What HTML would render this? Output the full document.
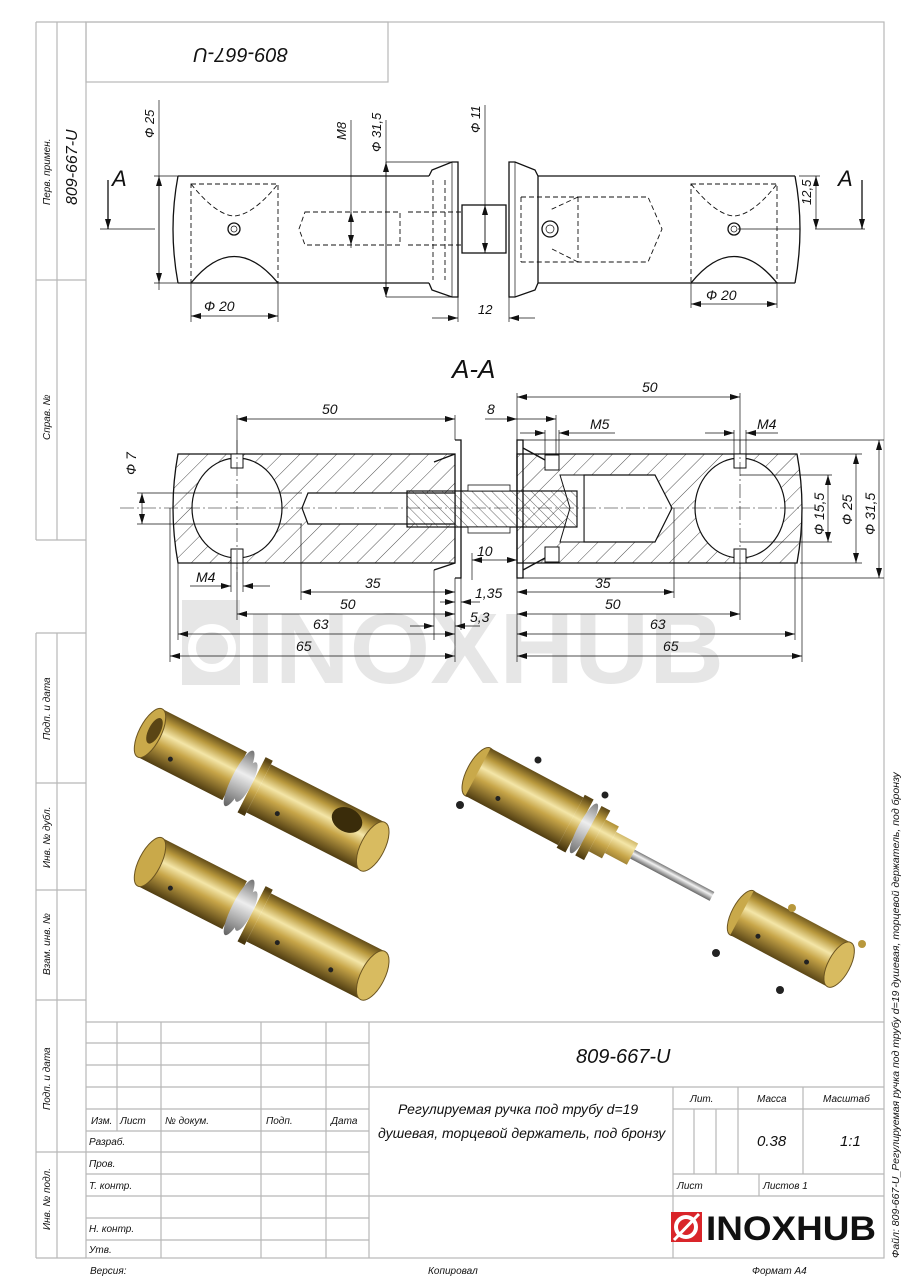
<!DOCTYPE html>
<html><head><meta charset="utf-8"><style>
html,body{margin:0;padding:0;background:#fff}
svg{display:block}
text{font-family:"Liberation Sans","DejaVu Sans",sans-serif;font-style:italic;fill:#111}
text.n{font-style:normal;font-weight:bold}
.fr{stroke:#b8b8b8;stroke-width:1.2;fill:none}
.k{stroke:#111;stroke-width:1.3;fill:none}
.t{stroke:#111;stroke-width:0.7;fill:none}
.d{stroke:#111;stroke-width:0.9;fill:none;stroke-dasharray:5 3}
.c{stroke:#111;stroke-width:0.6;fill:none;stroke-dasharray:14 3 2 3}
</style></head><body>
<svg width="905" height="1280" viewBox="0 0 905 1280" xmlns="http://www.w3.org/2000/svg">
<defs>
<pattern id="h" width="13" height="13" patternUnits="userSpaceOnUse" patternTransform="rotate(45)">
<line x1="0" y1="0" x2="0" y2="13" stroke="#222" stroke-width="0.8"/></pattern>
<pattern id="h2" width="7" height="7" patternUnits="userSpaceOnUse" patternTransform="rotate(-45)">
<line x1="0" y1="0" x2="0" y2="7" stroke="#222" stroke-width="0.7"/></pattern>
<marker id="a" viewBox="0 0 10 6" refX="10" refY="3" markerWidth="10" markerHeight="6" orient="auto-start-reverse" markerUnits="userSpaceOnUse"><path d="M0,0L10,3L0,6z" fill="#111"/></marker>
<linearGradient id="b" gradientUnits="userSpaceOnUse" x1="0" y1="-28" x2="0" y2="28">
<stop offset="0" stop-color="#5a4515"/><stop offset="0.2" stop-color="#b8983c"/><stop offset="0.4" stop-color="#f4e6a8"/><stop offset="0.6" stop-color="#c7a548"/><stop offset="1" stop-color="#4a380f"/></linearGradient>
<linearGradient id="g" gradientUnits="userSpaceOnUse" x1="0" y1="-30" x2="0" y2="30">
<stop offset="0" stop-color="#777"/><stop offset="0.4" stop-color="#eee"/><stop offset="1" stop-color="#666"/></linearGradient>
<linearGradient id="r" gradientUnits="userSpaceOnUse" x1="0" y1="-5" x2="0" y2="5">
<stop offset="0" stop-color="#777"/><stop offset="0.4" stop-color="#f2f2f2"/><stop offset="1" stop-color="#666"/></linearGradient>
</defs>

<rect x="86" y="22" width="798" height="1236" class="fr"/>
<line x1="36" y1="22" x2="36" y2="540" class="fr"/><line x1="57" y1="22" x2="57" y2="540" class="fr"/>
<line x1="36" y1="22" x2="86" y2="22" class="fr"/><line x1="36" y1="280" x2="86" y2="280" class="fr"/><line x1="36" y1="540" x2="86" y2="540" class="fr"/>
<line x1="36" y1="633" x2="36" y2="1258" class="fr"/><line x1="57" y1="633" x2="57" y2="1258" class="fr"/>
<line x1="36" y1="633" x2="86" y2="633" class="fr"/><line x1="36" y1="783" x2="86" y2="783" class="fr"/><line x1="36" y1="890" x2="86" y2="890" class="fr"/><line x1="36" y1="1000" x2="86" y2="1000" class="fr"/><line x1="36" y1="1152" x2="86" y2="1152" class="fr"/><line x1="36" y1="1258" x2="86" y2="1258" class="fr"/>
<g font-size="10">
<text transform="translate(50,205) rotate(-90)">Перв. примен.</text>
<text transform="translate(50,440) rotate(-90)">Справ. №</text>
<text transform="translate(50,740) rotate(-90)">Подп. и дата</text>
<text transform="translate(50,868) rotate(-90)">Инв. № дубл.</text>
<text transform="translate(50,975) rotate(-90)">Взам. инв. №</text>
<text transform="translate(50,1110) rotate(-90)">Подп. и дата</text>
<text transform="translate(50,1230) rotate(-90)">Инв. № подл.</text>
</g>
<text transform="translate(77,205) rotate(-90)" font-size="16">809-667-U</text>
<rect x="86" y="22" width="302" height="60" class="fr"/>
<text transform="translate(288,48) rotate(180)" font-size="20">809-667-U</text>

<g class="fr">
<line x1="86" y1="1022" x2="884" y2="1022"/>
<line x1="86" y1="1043" x2="369" y2="1043"/><line x1="86" y1="1065" x2="369" y2="1065"/><line x1="86" y1="1087" x2="884" y2="1087"/>
<line x1="86" y1="1109" x2="369" y2="1109"/><line x1="86" y1="1131" x2="369" y2="1131"/><line x1="86" y1="1152" x2="369" y2="1152"/>
<line x1="86" y1="1174" x2="369" y2="1174"/><line x1="86" y1="1196" x2="884" y2="1196"/><line x1="86" y1="1218" x2="369" y2="1218"/><line x1="86" y1="1240" x2="369" y2="1240"/>
<line x1="117" y1="1022" x2="117" y2="1131"/><line x1="161" y1="1022" x2="161" y2="1258"/><line x1="261" y1="1022" x2="261" y2="1258"/><line x1="326" y1="1022" x2="326" y2="1258"/><line x1="369" y1="1022" x2="369" y2="1258"/>
<line x1="673" y1="1087" x2="673" y2="1258"/><line x1="673" y1="1109" x2="884" y2="1109"/><line x1="673" y1="1174" x2="884" y2="1174"/>
<line x1="694" y1="1109" x2="694" y2="1174"/><line x1="716" y1="1109" x2="716" y2="1174"/><line x1="738" y1="1087" x2="738" y2="1174"/><line x1="803" y1="1087" x2="803" y2="1174"/><line x1="759" y1="1174" x2="759" y2="1196"/>
</g>
<g font-size="10">
<text x="91" y="1124">Изм.</text><text x="120" y="1124">Лист</text><text x="165" y="1124">№ докум.</text><text x="266" y="1124">Подп.</text><text x="331" y="1124">Дата</text>
<text x="89" y="1145">Разраб.</text><text x="89" y="1167">Пров.</text><text x="89" y="1189">Т. контр.</text><text x="89" y="1232">Н. контр.</text><text x="89" y="1253">Утв.</text>
<text x="690" y="1102">Лит.</text><text x="757" y="1102">Масса</text><text x="823" y="1102">Масштаб</text>
<text x="677" y="1189">Лист</text><text x="763" y="1189">Листов 1</text>
<text x="90" y="1274">Версия:</text><text x="428" y="1274">Копировал</text><text x="752" y="1274">Формат А4</text>
</g>
<text x="576" y="1063" font-size="20">809-667-U</text>
<text x="398" y="1114" font-size="14">Регулируемая ручка под трубу d=19</text>
<text x="378" y="1138" font-size="14">душевая, торцевой держатель, под бронзу</text>
<text x="757" y="1146" font-size="15">0.38</text><text x="840" y="1146" font-size="15">1:1</text>
<rect x="671" y="1212" width="31" height="30" fill="#d9252a"/>
<circle cx="686" cy="1227" r="10" fill="none" stroke="#fff" stroke-width="4"/>
<line x1="674" y1="1240" x2="699" y2="1214" stroke="#fff" stroke-width="3"/>
<text class="n" x="706" y="1240" font-size="34" fill="#222" textLength="170" lengthAdjust="spacingAndGlyphs">INOXHUB</text>
<text transform="translate(899,1258) rotate(-90)" font-size="10.5">Файл: 809-667-U_Регулируемая ручка под трубу d=19 душевая, торцевой держатель, под бронзу</text>

<g opacity="0.14">
<polygon points="182,600 240,600 240,685 182,685" fill="#555"/>
<circle cx="212" cy="648" r="20" fill="none" stroke="#fff" stroke-width="8"/>
<text class="n" x="246" y="683" font-size="100" style="fill:#555" textLength="478" lengthAdjust="spacingAndGlyphs">INOXHUB</text>
</g>

<path class="k" d="M178,176 L429,176 M178,283 L429,283 M178,176 Q168,229 178,283"/>
<path class="k" d="M538,176 L795,176 M538,283 L795,283 M795,176 Q805,229 795,283"/>
<rect x="191" y="184" width="87" height="99" class="d"/>
<path class="d" d="M191,184 Q216,215 234,216 Q253,215 278,184"/>
<path class="k" d="M191,283 Q234,230 278,283"/>
<rect x="691" y="184" width="86" height="99" class="d"/>
<path class="d" d="M691,184 Q716,215 734,216 Q753,215 777,184"/>
<path class="k" d="M691,283 Q734,230 777,283"/>
<circle cx="234" cy="229" r="6" class="k" stroke-width="2"/><circle cx="234" cy="229" r="3" class="t"/>
<circle cx="734" cy="229" r="6" class="k" stroke-width="2"/><circle cx="734" cy="229" r="3" class="t"/>
<circle cx="550" cy="229" r="8" class="k" stroke-width="2.2"/><circle cx="550" cy="229" r="4" class="t"/>
<path class="k" d="M429,176 L432,170 L452,162 L458,162 L458,297 L452,297 L432,290 L429,283"/>
<line x1="452" y1="162" x2="452" y2="297" class="t"/>
<path class="k" d="M509,162 L515,162 L535,170 L538,176 L538,283 L535,290 L515,297 L509,297 Z"/>
<line x1="515" y1="162" x2="515" y2="297" class="t"/>
<rect x="462" y="205" width="44" height="48" class="k"/>
<path class="d" d="M305,212 L400,212 L400,245 L305,245 L299,229 Z M408,212 L462,212 M408,245 L462,245 M433,180 L433,280 M445,180 L445,280"/>
<path class="d" d="M521,197 L648,197 L662,229 L648,262 L521,262 M521,197 L521,262 M578,197 L578,262 M578,197 L550,210 M578,262 L550,248"/>
<g class="t">
<line x1="159" y1="100" x2="159" y2="290"/><line x1="154" y1="176" x2="178" y2="176"/><line x1="154" y1="283" x2="178" y2="283"/>
<line x1="159" y1="176" x2="159" y2="283" marker-start="url(#a)" marker-end="url(#a)"/>
<line x1="351" y1="120" x2="351" y2="248"/><line x1="351" y1="212" x2="351" y2="245" marker-start="url(#a)" marker-end="url(#a)"/>
<line x1="386" y1="120" x2="386" y2="297"/><line x1="386" y1="162" x2="452" y2="162"/><line x1="386" y1="297" x2="452" y2="297"/>
<line x1="386" y1="162" x2="386" y2="297" marker-start="url(#a)" marker-end="url(#a)"/>
<line x1="485" y1="105" x2="485" y2="253"/><line x1="485" y1="205" x2="485" y2="253" marker-start="url(#a)" marker-end="url(#a)"/>
<line x1="458" y1="297" x2="458" y2="322"/><line x1="509" y1="297" x2="509" y2="322"/>
<line x1="432" y1="318" x2="458" y2="318" marker-end="url(#a)"/><line x1="535" y1="318" x2="509" y2="318" marker-end="url(#a)"/>
<line x1="191" y1="283" x2="191" y2="322"/><line x1="278" y1="283" x2="278" y2="322"/>
<line x1="191" y1="316" x2="278" y2="316" marker-start="url(#a)" marker-end="url(#a)"/>
<line x1="691" y1="283" x2="691" y2="308"/><line x1="777" y1="283" x2="777" y2="308"/>
<line x1="691" y1="304" x2="777" y2="304" marker-start="url(#a)" marker-end="url(#a)"/>
<line x1="799" y1="176" x2="820" y2="176"/><line x1="816" y1="176" x2="816" y2="229" marker-start="url(#a)" marker-end="url(#a)"/>
<line x1="100" y1="229" x2="155" y2="229"/><line x1="815" y1="229" x2="865" y2="229"/><line x1="738" y1="229" x2="800" y2="229"/>
</g>
<line x1="108" y1="180" x2="108" y2="229" stroke="#111" stroke-width="1.3" marker-end="url(#a)"/>
<line x1="862" y1="180" x2="862" y2="229" stroke="#111" stroke-width="1.3" marker-end="url(#a)"/>
<text x="112" y="186" font-size="22">A</text><text x="838" y="186" font-size="22">A</text>
<g font-size="13">
<text transform="translate(154,138) rotate(-90)">Ф 25</text>
<text transform="translate(346,140) rotate(-90)">M8</text>
<text transform="translate(381,152) rotate(-90)">Ф 31,5</text>
<text transform="translate(480,133) rotate(-90)">Ф 11</text>
<text transform="translate(811,205) rotate(-90)">12,5</text>
</g>
<text x="204" y="311" font-size="14">Ф 20</text><text x="706" y="300" font-size="14">Ф 20</text><text x="478" y="314" font-size="13">12</text>

<text x="452" y="378" font-size="26">A-A</text>
<path d="M178,454 L455,454 L455,563 L178,563 Q168,508 178,454 Z" fill="url(#h)" stroke="#111" stroke-width="1.3"/>
<path d="M517,454 L797,454 Q807,508 797,563 L517,563 Z" fill="url(#h)" stroke="#111" stroke-width="1.3"/>
<ellipse cx="237" cy="508" rx="45" ry="50" fill="#fff" stroke="#111" stroke-width="1.2"/>
<ellipse cx="740" cy="508" rx="45" ry="50" fill="#fff" stroke="#111" stroke-width="1.2"/>
<path d="M455,493 L308,493 L302,508 L308,524 L455,524 Z" fill="#fff" stroke="#111" stroke-width="1.2"/>
<path d="M584,475 L655,475 L672,508 L655,542 L584,542 Z" fill="#fff" stroke="#111" stroke-width="1.2"/>
<path d="M560,475 L584,475 L584,542 L560,542 L570,508 Z" fill="#fff" stroke="#111" stroke-width="1"/>
<rect x="407" y="491" width="170" height="36" fill="url(#h2)" stroke="#111" stroke-width="1.2"/>
<rect x="468" y="485" width="42" height="6" fill="#fff" stroke="#111" stroke-width="0.8"/>
<rect x="468" y="527" width="42" height="6" fill="#fff" stroke="#111" stroke-width="0.8"/>
<g fill="#fff" stroke="#111" stroke-width="1">
<rect x="231" y="454" width="12" height="14"/><rect x="231" y="549" width="12" height="14"/>
<rect x="734" y="454" width="12" height="14"/><rect x="734" y="549" width="12" height="14"/>
<rect x="545" y="455" width="14" height="15"/><rect x="545" y="547" width="14" height="15"/>
</g>
<path class="k" d="M455,440 L461,440 L461,578 L455,578 M455,454 L434,462 M455,563 L434,570"/>
<path class="k" d="M517,440 L523,440 L523,578 L517,578 Z M523,448 L545,460 M523,570 L545,558"/>
<line x1="120" y1="508" x2="820" y2="508" class="c"/>
<line x1="237" y1="440" x2="237" y2="580" class="c"/><line x1="740" y1="440" x2="740" y2="580" class="c"/>
<g class="t">
<line x1="237" y1="415" x2="237" y2="454"/><line x1="455" y1="415" x2="455" y2="440"/>
<line x1="237" y1="419" x2="455" y2="419" marker-start="url(#a)" marker-end="url(#a)"/>
<line x1="517" y1="393" x2="517" y2="440"/><line x1="740" y1="393" x2="740" y2="454"/>
<line x1="517" y1="397" x2="740" y2="397" marker-start="url(#a)" marker-end="url(#a)"/>
<line x1="556" y1="415" x2="556" y2="455"/><line x1="485" y1="419" x2="517" y2="419" marker-end="url(#a)"/><line x1="517" y1="419" x2="556" y2="419" marker-end="url(#a)"/>
<line x1="545" y1="430" x2="545" y2="455"/><line x1="559" y1="430" x2="559" y2="455"/>
<line x1="520" y1="433" x2="545" y2="433" marker-end="url(#a)"/><line x1="615" y1="433" x2="559" y2="433" marker-end="url(#a)"/>
<line x1="734" y1="430" x2="734" y2="454"/><line x1="746" y1="430" x2="746" y2="454"/>
<line x1="705" y1="433" x2="734" y2="433" marker-end="url(#a)"/><line x1="778" y1="433" x2="746" y2="433" marker-end="url(#a)"/>
<line x1="523" y1="440" x2="884" y2="440"/><line x1="523" y1="578" x2="884" y2="578"/>
<line x1="879" y1="440" x2="879" y2="578" marker-start="url(#a)" marker-end="url(#a)"/>
<line x1="800" y1="454" x2="862" y2="454"/><line x1="800" y1="563" x2="862" y2="563"/>
<line x1="856" y1="454" x2="856" y2="563" marker-start="url(#a)" marker-end="url(#a)"/>
<line x1="740" y1="475" x2="832" y2="475"/><line x1="740" y1="542" x2="832" y2="542"/>
<line x1="828" y1="475" x2="828" y2="542" marker-start="url(#a)" marker-end="url(#a)"/>
<line x1="137" y1="493" x2="302" y2="493"/><line x1="137" y1="524" x2="302" y2="524"/>
<line x1="142" y1="493" x2="142" y2="524" marker-start="url(#a)" marker-end="url(#a)"/>
<line x1="231" y1="563" x2="231" y2="592"/><line x1="243" y1="563" x2="243" y2="592"/>
<line x1="190" y1="586" x2="231" y2="586" marker-end="url(#a)"/><line x1="270" y1="586" x2="243" y2="586" marker-end="url(#a)"/>
<line x1="301" y1="524" x2="301" y2="600"/><line x1="301" y1="592" x2="455" y2="592" marker-start="url(#a)" marker-end="url(#a)"/>
<line x1="434" y1="570" x2="434" y2="640"/><line x1="455" y1="578" x2="455" y2="662"/><line x1="461" y1="578" x2="461" y2="630"/>
<line x1="440" y1="602" x2="455" y2="602" marker-end="url(#a)"/><line x1="480" y1="602" x2="461" y2="602" marker-end="url(#a)"/>
<line x1="237" y1="563" x2="237" y2="620"/><line x1="237" y1="614" x2="455" y2="614" marker-start="url(#a)" marker-end="url(#a)"/>
<line x1="410" y1="626" x2="434" y2="626" marker-end="url(#a)"/><line x1="480" y1="626" x2="455" y2="626" marker-end="url(#a)"/>
<line x1="178" y1="563" x2="178" y2="640"/><line x1="178" y1="634" x2="455" y2="634" marker-start="url(#a)" marker-end="url(#a)"/>
<line x1="170" y1="508" x2="170" y2="662"/><line x1="170" y1="656" x2="455" y2="656" marker-start="url(#a)" marker-end="url(#a)"/>
<line x1="517" y1="578" x2="517" y2="662"/><line x1="472" y1="553" x2="472" y2="580"/>
<line x1="472" y1="560" x2="517" y2="560" marker-start="url(#a)" marker-end="url(#a)"/>
<line x1="674" y1="508" x2="674" y2="598"/><line x1="517" y1="592" x2="674" y2="592" marker-start="url(#a)" marker-end="url(#a)"/>
<line x1="740" y1="563" x2="740" y2="620"/><line x1="517" y1="614" x2="740" y2="614" marker-start="url(#a)" marker-end="url(#a)"/>
<line x1="795" y1="563" x2="795" y2="640"/><line x1="517" y1="634" x2="795" y2="634" marker-start="url(#a)" marker-end="url(#a)"/>
<line x1="802" y1="508" x2="802" y2="662"/><line x1="517" y1="656" x2="802" y2="656" marker-start="url(#a)" marker-end="url(#a)"/>
</g>
<g font-size="14">
<text x="322" y="414">50</text><text x="642" y="392">50</text><text x="487" y="414">8</text>
<text x="590" y="429">M5</text><text x="757" y="429">M4</text>
<text transform="translate(136,475) rotate(-90)">Ф 7</text>
<text transform="translate(824,535) rotate(-90)">Ф 15,5</text>
<text transform="translate(852,525) rotate(-90)">Ф 25</text>
<text transform="translate(875,535) rotate(-90)">Ф 31,5</text>
<text x="196" y="582">M4</text><text x="365" y="588">35</text><text x="475" y="598">1,35</text>
<text x="340" y="609">50</text><text x="470" y="622">5,3</text><text x="313" y="629">63</text><text x="296" y="651">65</text>
<text x="477" y="556">10</text><text x="595" y="588">35</text><text x="605" y="609">50</text><text x="650" y="629">63</text><text x="663" y="651">65</text>
</g>

<g transform="translate(150,733) rotate(27)">
<rect x="0" y="-27" width="95" height="54" fill="url(#b)"/>
<ellipse cx="0" cy="0" rx="11" ry="27" fill="#c9a94a" stroke="#6b5420" stroke-width="1"/>
<ellipse cx="3" cy="-4" rx="6" ry="14" fill="#5a4515"/>
<ellipse cx="100" cy="0" rx="7" ry="31" fill="url(#g)"/>
<ellipse cx="108" cy="0" rx="6" ry="22" fill="url(#g)"/>
<rect x="114" y="-31" width="8" height="62" fill="url(#b)"/>
<rect x="122" y="-27" width="128" height="54" fill="url(#b)"/>
<ellipse cx="250" cy="0" rx="12" ry="27" fill="#d8bb60" stroke="#6b5420" stroke-width="1"/>
<ellipse cx="215" cy="-12" rx="16" ry="12" fill="#3a2c0a"/>
<circle cx="30" cy="14" r="2.5" fill="#222"/><circle cx="150" cy="14" r="2.5" fill="#222"/>
</g>
<g transform="translate(150,862) rotate(27)">
<rect x="0" y="-27" width="95" height="54" fill="url(#b)"/>
<ellipse cx="0" cy="0" rx="11" ry="27" fill="#c9a94a" stroke="#6b5420" stroke-width="1"/>
<ellipse cx="100" cy="0" rx="7" ry="31" fill="url(#g)"/>
<ellipse cx="108" cy="0" rx="6" ry="22" fill="url(#g)"/>
<rect x="114" y="-31" width="8" height="62" fill="url(#b)"/>
<rect x="122" y="-27" width="128" height="54" fill="url(#b)"/>
<ellipse cx="250" cy="0" rx="12" ry="27" fill="#d8bb60" stroke="#6b5420" stroke-width="1"/>
<circle cx="30" cy="14" r="2.5" fill="#222"/><circle cx="150" cy="14" r="2.5" fill="#222"/><circle cx="210" cy="14" r="2.5" fill="#222"/>
</g>
<g transform="translate(478,772) rotate(28)">
<ellipse cx="0" cy="0" rx="11" ry="27" fill="#c9a94a" stroke="#6b5420" stroke-width="1"/>
<rect x="0" y="-27" width="105" height="54" fill="url(#b)"/>
<rect x="105" y="-30" width="10" height="60" fill="url(#b)"/>
<ellipse cx="120" cy="0" rx="6" ry="28" fill="url(#g)"/>
<rect x="125" y="-28" width="10" height="56" fill="url(#b)"/>
<rect x="135" y="-18" width="15" height="36" fill="url(#b)"/>
<rect x="150" y="-12" width="25" height="24" fill="url(#b)"/>
<rect x="175" y="-5" width="90" height="10" fill="url(#r)"/>
<circle cx="30" cy="14" r="2.5" fill="#222"/>
</g>
<g transform="translate(742,913) rotate(28)">
<ellipse cx="0" cy="0" rx="10" ry="25" fill="#c9a94a" stroke="#6b5420" stroke-width="1"/>
<rect x="0" y="-25" width="110" height="50" fill="url(#b)"/>
<ellipse cx="110" cy="0" rx="11" ry="25" fill="#d8bb60" stroke="#6b5420" stroke-width="1"/>
<circle cx="25" cy="13" r="2.5" fill="#222"/><circle cx="80" cy="13" r="2.5" fill="#222"/>
</g>
<g fill="#222">
<circle cx="538" cy="760" r="3.5"/><circle cx="460" cy="805" r="4"/><circle cx="792" cy="908" r="4" fill="#b8983c"/>
<circle cx="716" cy="953" r="4"/><circle cx="780" cy="990" r="4"/><circle cx="862" cy="944" r="4" fill="#b8983c"/><circle cx="605" cy="795" r="3.5"/>
</g>
</svg>
</body></html>
